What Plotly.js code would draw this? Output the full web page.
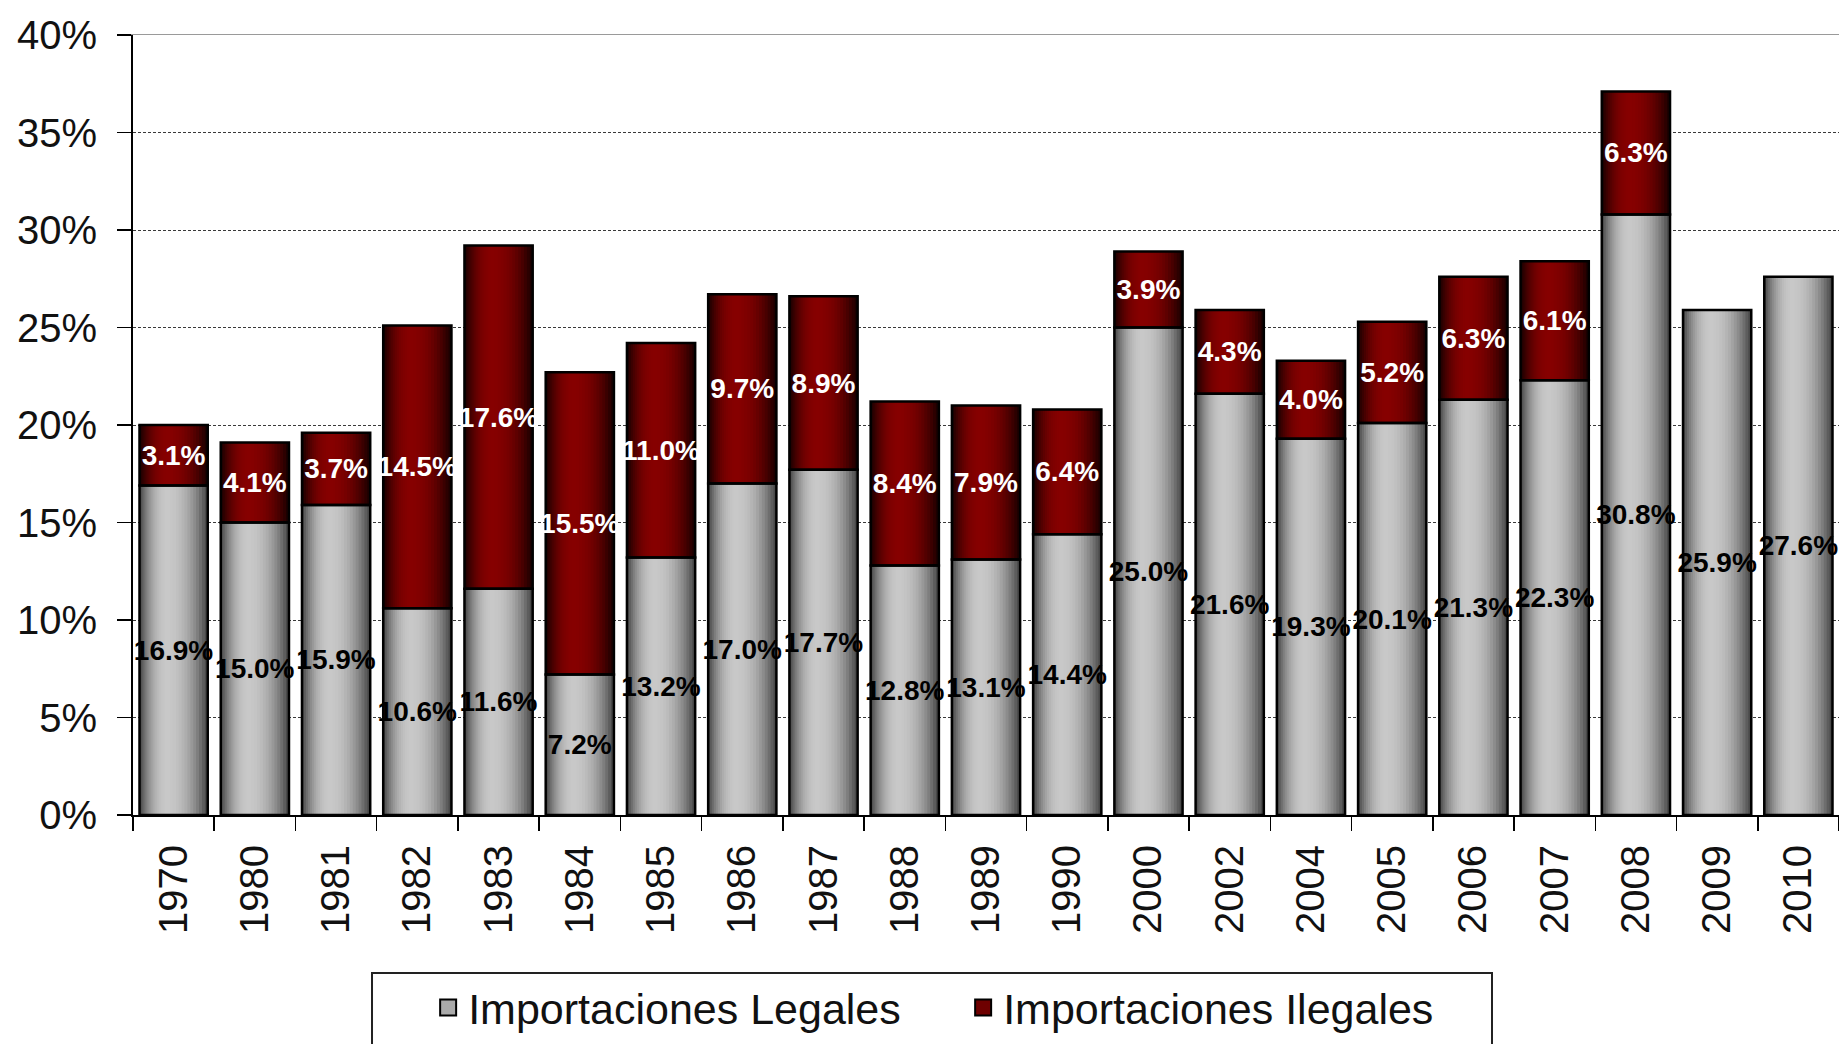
<!DOCTYPE html>
<html>
<head>
<meta charset="utf-8">
<script src="https://cdn.plot.ly/plotly-3.0.1.min.js"></script>
<style>
  html, body { margin: 0; padding: 0; background: #ffffff; }
  #chart { width: 1839px; height: 1044px; }
</style>
</head>
<body>
<div id="chart"></div>
<script>
// ---- Data ----
const years = ['1970','1980','1981','1982','1983','1984','1985','1986','1987','1988',
               '1989','1990','2000','2002','2004','2005','2006','2007','2008','2009','2010'];
const legalValues = [16.9, 15.0, 15.9, 10.6, 11.6, 7.2, 13.2, 17.0, 17.7, 12.8,
                     13.1, 14.4, 25.0, 21.6, 19.3, 20.1, 21.3, 22.3, 30.8, 25.9, 27.6];
const illegalValues = [3.1, 4.1, 3.7, 14.5, 17.6, 15.5, 11.0, 9.7, 8.9, 8.4,
                       7.9, 6.4, 3.9, 4.3, 4.0, 5.2, 6.3, 6.1, 6.3, null, null];
const seriesNames = ['Importaciones Legales', 'Importaciones Ilegales'];
const yTickVals = [0, 5, 10, 15, 20, 25, 30, 35, 40];

// ---- Styling ----
const BAR_W = 0.84;          // bar width in category units
const HILITE = -0.08;        // highlight centre offset (category units)
const N_LAYERS = 14;
const grayDark = [74, 74, 74], grayLight = [200, 200, 200];
const redDark = [28, 0, 0], redLight = [134, 0, 0];

function mix(a, b, f) {
  return 'rgb(' + a.map((v, i) => Math.round(v + (b[i] - v) * f)).join(',') + ')';
}
function fmt(v) { return v == null ? '' : v.toFixed(1) + '%'; }

const traces = [];
const legalBase = legalValues.map(() => 0);

// shaded (cylinder-like) fill layers
for (let i = 0; i < N_LAYERS; i++) {
  const t = i / N_LAYERS;
  const left = -BAR_W / 2 + t * (BAR_W / 2 + HILITE);
  const right = BAR_W / 2 - t * (BAR_W / 2 - HILITE);
  const f = 1 - Math.pow(1 - t, 2.2);
  [[legalValues, legalBase, grayDark, grayLight], [illegalValues, legalValues, redDark, redLight]]
    .forEach(([vals, base, dark, light]) => {
      traces.push({
        type: 'bar', x: years, y: vals, base: base,
        offset: left, width: right - left,
        marker: { color: mix(dark, light, f), line: { width: 0 } },
        hoverinfo: 'skip', showlegend: false
      });
    });
}

// outline + labels
const labelFont = { family: '"Liberation Sans", Arial, sans-serif', size: 28, weight: 'bold' };
traces.push({
  type: 'bar', x: years, y: legalValues, base: legalBase, name: seriesNames[0],
  offset: -BAR_W / 2, width: BAR_W,
  marker: { color: 'rgba(0,0,0,0)', line: { color: '#000000', width: 2.5 } },
  text: legalValues.map(fmt), textposition: 'inside', insidetextanchor: 'middle',
  textangle: 0, constraintext: 'none', cliponaxis: false,
  textfont: Object.assign({ color: '#000000' }, labelFont),
  showlegend: false
});
traces.push({
  type: 'bar', x: years, y: illegalValues, base: legalValues, name: seriesNames[1],
  offset: -BAR_W / 2, width: BAR_W,
  marker: { color: 'rgba(0,0,0,0)', line: { color: '#000000', width: 2.5 } },
  text: illegalValues.map(fmt), textposition: 'inside', insidetextanchor: 'middle',
  textangle: 0, constraintext: 'none', cliponaxis: false,
  textfont: Object.assign({ color: '#ffffff' }, labelFont),
  showlegend: false
});

// legend entries
traces.push({
  type: 'scatter', mode: 'markers', x: [null], y: [null], xaxis: 'x2', name: seriesNames[0],
  marker: { symbol: 'square', size: 16, color: 'rgb(170,170,170)', line: { color: '#000', width: 2 } },
  hoverinfo: 'skip'
});
traces.push({
  type: 'scatter', mode: 'markers', x: [null], y: [null], xaxis: 'x2', name: seriesNames[1],
  marker: { symbol: 'square', size: 16, color: 'rgb(110,0,0)', line: { color: '#000', width: 2 } },
  hoverinfo: 'skip'
});

const fam = '"Liberation Sans", Arial, sans-serif';

const layout = {
  width: 1839, height: 1044,
  margin: { l: 133, r: 0, t: 35, b: 229, pad: 0 },
  paper_bgcolor: '#ffffff', plot_bgcolor: '#ffffff',
  barmode: 'overlay',
  showlegend: true,
  xaxis: {
    type: 'category', range: [-0.5, 20.5],
    tickson: 'boundaries', ticks: 'outside', ticklen: 14, tickwidth: 1.5, tickcolor: '#000',
    tickangle: -90, tickfont: { family: fam, size: 40, color: '#111111' },
    ticklabelstandoff: 12,
    showline: true, linecolor: '#000000', linewidth: 2,
    showgrid: false, zeroline: false, fixedrange: true
  },
  xaxis2: {
    overlaying: 'x', side: 'top', anchor: 'y', range: [0, 1],
    showline: true, linecolor: '#9a9a9a', linewidth: 1.5,
    showticklabels: false, ticks: '', showgrid: false, zeroline: false
  },
  yaxis: {
    range: [0, 40], tickvals: yTickVals, ticktext: yTickVals.map(v => v + '%'),
    ticks: 'outside', ticklen: 14, tickwidth: 1.5, tickcolor: '#000',
    tickfont: { family: fam, size: 40, color: '#111111' }, ticklabelstandoff: 12,
    showline: true, linecolor: '#000000', linewidth: 2,
    showgrid: true, gridcolor: '#3a3a3a', gridwidth: 1, griddash: '3px,2px',
    zeroline: false, fixedrange: true
  },
  legend: {
    orientation: 'h', x: 0.173, xanchor: 'left', y: -0.2026, yanchor: 'top',
    bgcolor: 'rgba(0,0,0,0)', borderwidth: 0,
    entrywidth: 490, entrywidthmode: 'pixels',
    font: { family: fam, size: 43, color: '#111111' },
    itemsizing: 'trace', traceorder: 'normal'
  },
  shapes: [{
    type: 'rect', xref: 'paper', yref: 'paper', layer: 'below',
    x0: 0.1401, x1: 0.7966, y0: -0.2026, y1: -0.33,
    line: { color: '#222222', width: 2 }, fillcolor: '#ffffff'
  }]
};

Plotly.newPlot('chart', traces, layout, { displayModeBar: false, staticPlot: true });
</script>
</body>
</html>
